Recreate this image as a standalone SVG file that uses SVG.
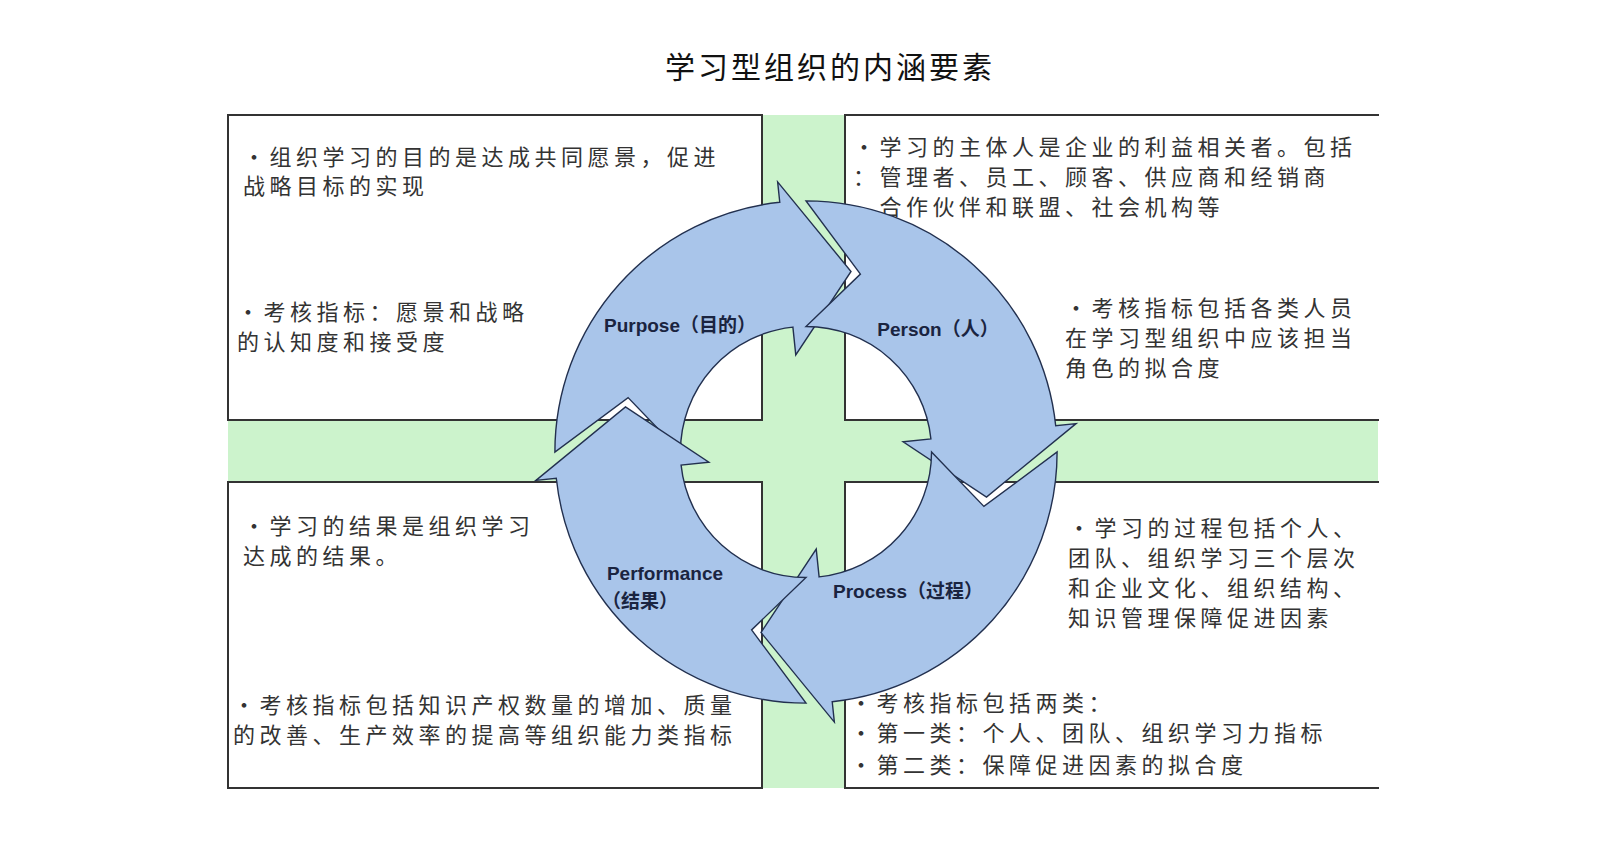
<svg xmlns="http://www.w3.org/2000/svg" width="1605" height="841" viewBox="0 0 1605 841">
<style>
.box{fill:#fff;stroke:#333;stroke-width:2}
.t{font-family:"Noto Sans CJK SC","Noto Sans",sans-serif;font-size:22px;fill:#333;letter-spacing:4.5px}
.lb{font-family:"Liberation Sans","Noto Sans CJK SC",sans-serif;font-size:19px;font-weight:bold;fill:#1a2440}
.arr{fill:#a9c5ea;stroke:#22304f;stroke-width:1.5}
</style>
<defs>
<path id="ar" class="arr" d="M-270,0 A270,270 0 0 1 -28.2,-268.5 L-30.5,-290.4 L48.4,-194.1 L-11,-104.4 L-14.1,-134.3 A135,135 0 0 0 -135,0 L-191.3,-58.5 Z"/>
</defs>
<rect width="1605" height="841" fill="#fff"/>
<text x="830" y="78" text-anchor="middle" font-family="Noto Sans CJK SC,sans-serif" font-size="30" fill="#111" letter-spacing="3">学习型组织的内涵要素</text>
<g id="background">
<rect x="228" y="115" width="1150" height="673" fill="#ccf3cc"/>
<rect class="box" x="228" y="115" width="534" height="305"/>
<rect class="box" x="845" y="115" width="545" height="305"/>
<rect class="box" x="228" y="482" width="534" height="306"/>
<rect class="box" x="845" y="482" width="545" height="306"/>
<rect x="1379" y="100" width="30" height="700" fill="#fff"/>
</g>
<g id="boxtext">
<text class="t" x="243" y="165">•组织学习的目的是达成共同愿景，促进</text>
<text class="t" x="243" y="194">战略目标的实现</text>
<text class="t" x="237" y="320">•考核指标：愿景和战略</text>
<text class="t" x="237" y="350">的认知度和接受度</text>
<text class="t" x="853" y="155">•学习的主体人是企业的利益相关者。包括</text>
<text class="t" x="853" y="185">：管理者、员工、顾客、供应商和经销商</text>
<text class="t" x="853" y="215">、合作伙伴和联盟、社会机构等</text>
<text class="t" x="1065" y="316">•考核指标包括各类人员</text>
<text class="t" x="1065" y="346">在学习型组织中应该担当</text>
<text class="t" x="1065" y="376">角色的拟合度</text>
<text class="t" x="243" y="534">•学习的结果是组织学习</text>
<text class="t" x="243" y="564">达成的结果。</text>
<text class="t" x="233" y="713">•考核指标包括知识产权数量的增加、质量</text>
<text class="t" x="233" y="743">的改善、生产效率的提高等组织能力类指标</text>
<text class="t" x="1068" y="536">•学习的过程包括个人、</text>
<text class="t" x="1068" y="566">团队、组织学习三个层次</text>
<text class="t" x="1068" y="596">和企业文化、组织结构、</text>
<text class="t" x="1068" y="626">知识管理保障促进因素</text>
<text class="t" x="850" y="711">•考核指标包括两类：</text>
<text class="t" x="850" y="741">•第一类：个人、团队、组织学习力指标</text>
<text class="t" x="850" y="773">•第二类：保障促进因素的拟合度</text>
</g>
<g id="connectors" transform="translate(806,452) scale(0.93)">
<use href="#ar"/>
<use href="#ar" transform="rotate(90)"/>
<use href="#ar" transform="rotate(180)"/>
<use href="#ar" transform="rotate(270)"/>
</g>
<g id="purpose"><text class="lb" x="680" y="332" text-anchor="middle">Purpose（目的）</text></g>
<g id="person"><text class="lb" x="938" y="336" text-anchor="middle">Person（人）</text></g>
<g id="performance"><text class="lb" x="665" y="580" text-anchor="middle">Performance</text><text class="lb" x="640" y="608" text-anchor="middle">（结果）</text></g>
<g id="process"><text class="lb" x="908" y="598" text-anchor="middle">Process（过程）</text></g>
</svg>
